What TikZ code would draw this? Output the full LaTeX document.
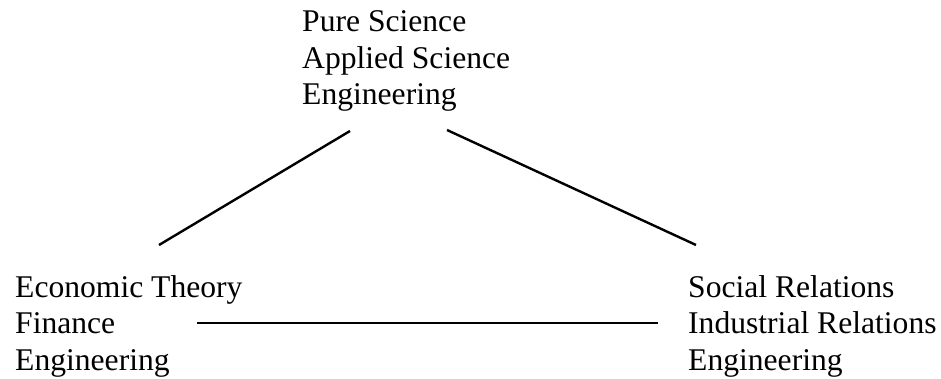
\documentclass[tikz,border=0pt]{standalone}
\usepackage{fontspec}
\setmainfont{Liberation Serif}
\usetikzlibrary{positioning}

\tikzset{
    group/.style={font=\fontsize{31.6}{36.5}\selectfont, align=left, inner sep=0pt, anchor=base west},
    link/.style={line width=2.4pt}
}

\begin{document}
\begin{tikzpicture}[x=1pt,y=-1pt]
            % Rahmen
            \useasboundingbox (0,0) rectangle (941,379);

            % drei Gruppen (Basis = letzte Zeile)
            \node[group] (sci) at (302,105) {Pure Science\\Applied Science\\Engineering};
            \node[group] (eco) at (15,370) {Economic Theory\\Finance\\Engineering};
            \node[group] (soc) at (688,370) {Social Relations\\Industrial Relations\\Engineering};

            % Linienenden
            \coordinate (sciL) at (350,131);
            \coordinate (sciR) at (447,130);
            \coordinate (ecoT) at (159,245);
            \coordinate (ecoR) at (197,323);
            \coordinate (socT) at (696,245);
            \coordinate (socL) at (658,323);

            % Verbindungen
            \draw[link] (sciL) -- (ecoT);
            \draw[link] (sciR) -- (socT);
            \draw[link] (ecoR) -- (socL);
        \end{tikzpicture}
\end{document}
